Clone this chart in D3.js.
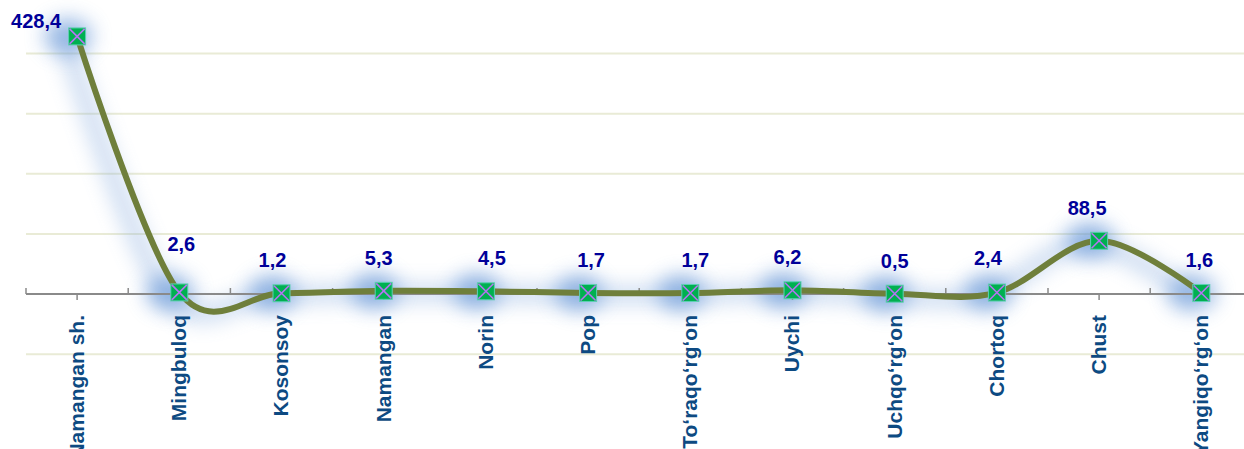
<html>
<head>
  <meta charset="utf-8">
  <script src="https://d3js.org/d3.v7.min.js"></script>
  <style>
    body { margin: 0; background: #fff; }
    svg { display: block; font-family: "Liberation Sans", Arial, sans-serif; }
  </style>
</head>
<body>
  <svg></svg>
  <script>

  // data
  const districts = ["Namangan sh.", "Mingbuloq", "Kosonsoy", "Namangan", "Norin", "Pop",
    "To‘raqo‘rg‘on", "Uychi", "Uchqo‘rg‘on", "Chortoq", "Chust", "Yangiqo‘rg‘on"];
  const values = [428.4, 2.6, 1.2, 5.3, 4.5, 1.7, 1.7, 6.2, 0.5, 2.4, 88.5, 1.6];
  const gridValues = [-100, 0, 100, 200, 300, 400];

  // label nudges (dx, dy) where excel moved labels
  const labelNudge = {0: [-41, 18], 1: [2, -15], 2: [-9, 0], 3: [-5, 0], 4: [6, 0], 5: [3, 0],
    6: [5, 0], 7: [-5, 0], 9: [-9, -2], 10: [-12, 0], 11: [-2, 0]};

  const width = 1244, height = 449;
  const svg = d3.select("svg").attr("width", width).attr("height", height);

  const x = d3.scaleBand().domain(districts).range([26, 26 + 12 * 102.2]);
  const y = d3.scaleLinear().domain([0, 400]).range([294, 53.5]);
  const cx = d => x(d) + x.bandwidth() / 2;

  const defs = svg.append("defs");
  defs.append("filter").attr("id", "glow")
    .attr("x", "-50%").attr("y", "-50%").attr("width", "200%").attr("height", "200%")
    .append("feGaussianBlur").attr("stdDeviation", 10);

  // gridlines
  svg.append("g").selectAll("line")
    .data(gridValues.filter(v => v != 0))
    .join("line")
    .attr("x1", 26).attr("x2", width)
    .attr("y1", d => y(d)).attr("y2", d => y(d))
    .attr("stroke", "#e9ebd6").attr("stroke-width", 2);

  const pts = districts.map((d, i) => ({name: d, value: values[i], i: i}));

  const line = d3.line()
    .x(d => cx(d.name))
    .y(d => y(d.value))
    .curve(d3.curveCardinal.tension(0));

  // blue glow behind the series
  svg.append("path")
    .attr("d", line(pts))
    .attr("filter", "url(#glow)")
    .attr("transform", "translate(-12,2)")
    .attr("opacity", 0.4)
    .attr("fill", "none")
    .attr("stroke", "#7fa6dc")
    .attr("stroke-width", 18);
  svg.append("g")
    .attr("filter", "url(#glow)")
    .attr("transform", "translate(-9,0)")
    .attr("opacity", 0.6)
    .selectAll("ellipse")
    .data(pts)
    .join("ellipse")
    .attr("cx", d => cx(d.name))
    .attr("cy", d => y(d.value))
    .attr("rx", 24).attr("ry", 18)
    .attr("fill", "#5a8ed4");

  // x axis
  const axis = svg.append("g")
    .attr("transform", "translate(0," + y(0) + ")")
    .call(d3.axisBottom(x).tickSize(6).tickFormat(""));
  axis.select(".domain").remove();
  axis.selectAll(".tick line").attr("stroke", "#8a8a8a").attr("stroke-width", 1.5);
  axis.append("line")
    .attr("x1", x.range()[0]).attr("x2", width)
    .attr("stroke", "#8a8a8a").attr("stroke-width", 2);
  const bounds = districts.map(d => x(d)).concat([x.range()[1]]);
  axis.selectAll(".minor")
    .data(bounds)
    .join("line")
    .attr("class", "minor")
    .attr("x1", d => d).attr("x2", d => d)
    .attr("y1", 0).attr("y2", -6)
    .attr("stroke", "#8a8a8a").attr("stroke-width", 1.5);

  // category labels
  svg.append("g").selectAll("text")
    .data(districts)
    .join("text")
    .attr("transform", d => "translate(" + cx(d) + "," + (y(0) + 21) + ") rotate(-90)")
    .attr("dy", "0.33em")
    .attr("text-anchor", "end")
    .attr("font-size", 21)
    .attr("font-weight", "bold")
    .attr("fill", "#0d4a82")
    .text(d => d);

  // line
  svg.append("path")
    .attr("d", line(pts))
    .attr("fill", "none")
    .attr("stroke", "#6f7f3b")
    .attr("stroke-width", 6);

  // markers
  const m = 17;
  const mk = svg.append("g").selectAll("g")
    .data(pts)
    .join("g")
    .attr("transform", d => "translate(" + cx(d.name) + "," + y(d.value) + ")");
  mk.append("rect")
    .attr("x", -m / 2).attr("y", -m / 2)
    .attr("width", m).attr("height", m)
    .attr("fill", "#00b050")
    .attr("stroke", "#5fcfb4").attr("stroke-width", 1);
  mk.append("path")
    .attr("d", "M" + (-m / 2 + 1) + "," + (-m / 2 + 1) + "L" + (m / 2 - 1) + "," + (m / 2 - 1) +
      "M" + (m / 2 - 1) + "," + (-m / 2 + 1) + "L" + (-m / 2 + 1) + "," + (m / 2 - 1))
    .attr("stroke", "#b574f2").attr("stroke-width", 1.6);

  // data labels
  svg.append("g").selectAll("text")
    .data(pts)
    .join("text")
    .attr("x", d => cx(d.name) + (labelNudge[d.i] ? labelNudge[d.i][0] : 0))
    .attr("y", d => y(d.value) - 26 + (labelNudge[d.i] ? labelNudge[d.i][1] : 0))
    .attr("text-anchor", "middle")
    .attr("font-size", 20)
    .attr("font-weight", "bold")
    .attr("fill", "#000099")
    .text(d => d3.format(".1f")(d.value).replace(".", ","));

  </script>
</body>
</html>
